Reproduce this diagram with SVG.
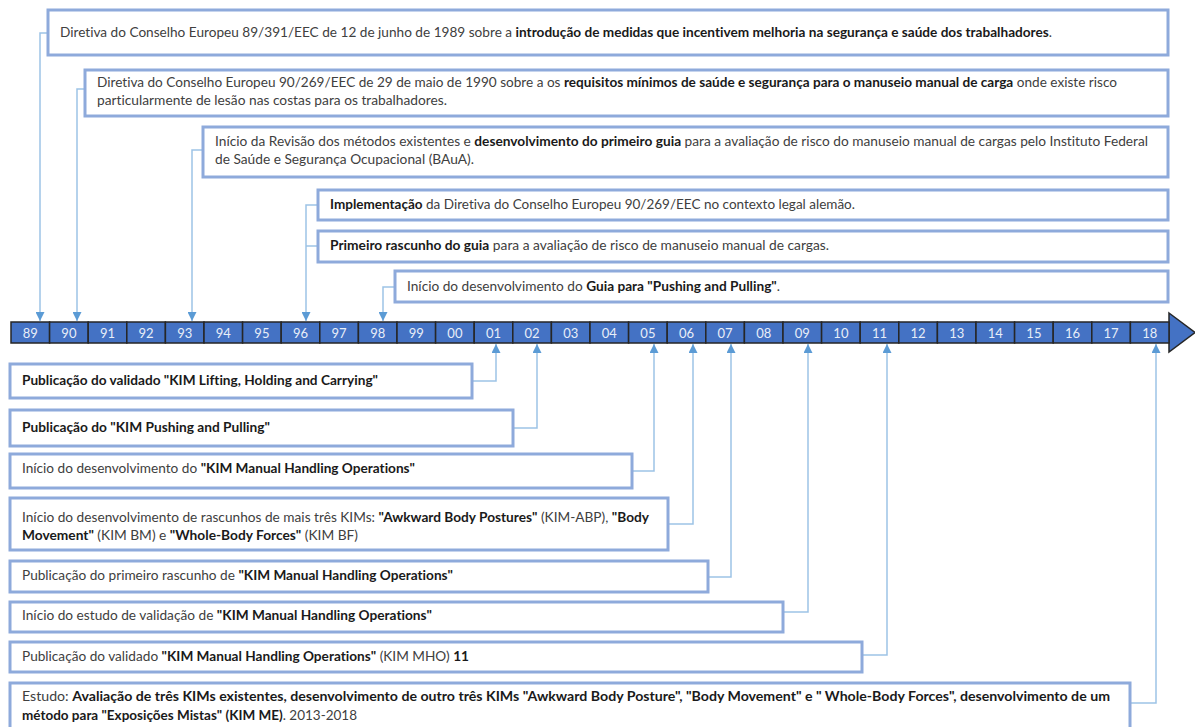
<svg xmlns="http://www.w3.org/2000/svg" width="1195" height="727" viewBox="0 0 1195 727">
<style>
.box{fill:#fff;stroke:#8eaadb;stroke-width:3}
.t{font-family:Lato,"Noto Sans",sans-serif;font-size:13px;fill:#404040;font-variant-ligatures:none;font-feature-settings:"liga" 0,"clig" 0}
.b{font-weight:bold;fill:#1a1a1a}
.con{fill:none;stroke:#9dc3e6;stroke-width:1.5}
.cell{fill:#4472c4;stroke:#262626;stroke-width:1.5}
.yr{font-family:Lato,"Noto Sans",sans-serif;font-size:13px;fill:#e8eef8;text-anchor:middle}
</style>
<defs>
<marker id="ah" viewBox="0 0 10 10" refX="10" refY="5" markerUnits="userSpaceOnUse" markerWidth="9" markerHeight="9" orient="auto">
<path d="M0,0 L10,5 L0,10 z" fill="#5b9bd5"/>
</marker>
</defs>
<rect width="1195" height="727" fill="#fff"/>

<g id="timeline">
<path d="M1169,313 L1195,332.5 L1169,352 Z" fill="#4472c4" stroke="#262626" stroke-width="1.5"/>
<rect class="cell" x="11" y="322" width="38.6" height="21"/>
<rect class="cell" x="49.6" y="322" width="38.6" height="21"/>
<rect class="cell" x="88.2" y="322" width="38.6" height="21"/>
<rect class="cell" x="126.8" y="322" width="38.6" height="21"/>
<rect class="cell" x="165.4" y="322" width="38.6" height="21"/>
<rect class="cell" x="204" y="322" width="38.6" height="21"/>
<rect class="cell" x="242.6" y="322" width="38.6" height="21"/>
<rect class="cell" x="281.2" y="322" width="38.6" height="21"/>
<rect class="cell" x="319.8" y="322" width="38.6" height="21"/>
<rect class="cell" x="358.4" y="322" width="38.6" height="21"/>
<rect class="cell" x="397" y="322" width="38.6" height="21"/>
<rect class="cell" x="435.6" y="322" width="38.6" height="21"/>
<rect class="cell" x="474.2" y="322" width="38.6" height="21"/>
<rect class="cell" x="512.8" y="322" width="38.6" height="21"/>
<rect class="cell" x="551.4" y="322" width="38.6" height="21"/>
<rect class="cell" x="590" y="322" width="38.6" height="21"/>
<rect class="cell" x="628.6" y="322" width="38.6" height="21"/>
<rect class="cell" x="667.2" y="322" width="38.6" height="21"/>
<rect class="cell" x="705.8" y="322" width="38.6" height="21"/>
<rect class="cell" x="744.4" y="322" width="38.6" height="21"/>
<rect class="cell" x="783" y="322" width="38.6" height="21"/>
<rect class="cell" x="821.6" y="322" width="38.6" height="21"/>
<rect class="cell" x="860.2" y="322" width="38.6" height="21"/>
<rect class="cell" x="898.8" y="322" width="38.6" height="21"/>
<rect class="cell" x="937.4" y="322" width="38.6" height="21"/>
<rect class="cell" x="976" y="322" width="38.6" height="21"/>
<rect class="cell" x="1014.6" y="322" width="38.6" height="21"/>
<rect class="cell" x="1053.2" y="322" width="38.6" height="21"/>
<rect class="cell" x="1091.8" y="322" width="38.6" height="21"/>
<rect class="cell" x="1130.4" y="322" width="38.6" height="21"/>
<text class="yr" x="30.3" y="337.5">89</text>
<text class="yr" x="68.9" y="337.5">90</text>
<text class="yr" x="107.5" y="337.5">91</text>
<text class="yr" x="146.1" y="337.5">92</text>
<text class="yr" x="184.7" y="337.5">93</text>
<text class="yr" x="223.3" y="337.5">94</text>
<text class="yr" x="261.9" y="337.5">95</text>
<text class="yr" x="300.5" y="337.5">96</text>
<text class="yr" x="339.1" y="337.5">97</text>
<text class="yr" x="377.7" y="337.5">98</text>
<text class="yr" x="416.3" y="337.5">99</text>
<text class="yr" x="454.9" y="337.5">00</text>
<text class="yr" x="493.5" y="337.5">01</text>
<text class="yr" x="532.1" y="337.5">02</text>
<text class="yr" x="570.7" y="337.5">03</text>
<text class="yr" x="609.3" y="337.5">04</text>
<text class="yr" x="647.9" y="337.5">05</text>
<text class="yr" x="686.5" y="337.5">06</text>
<text class="yr" x="725.1" y="337.5">07</text>
<text class="yr" x="763.7" y="337.5">08</text>
<text class="yr" x="802.3" y="337.5">09</text>
<text class="yr" x="840.9" y="337.5">10</text>
<text class="yr" x="879.5" y="337.5">11</text>
<text class="yr" x="918.1" y="337.5">12</text>
<text class="yr" x="956.7" y="337.5">13</text>
<text class="yr" x="995.3" y="337.5">14</text>
<text class="yr" x="1033.9" y="337.5">15</text>
<text class="yr" x="1072.5" y="337.5">16</text>
<text class="yr" x="1111.1" y="337.5">17</text>
<text class="yr" x="1149.7" y="337.5">18</text>
</g>

<g id="connectors">
<path class="con" d="M48,33 H40 V321" marker-end="url(#ah)"/>
<path class="con" d="M85,89 H77 V321" marker-end="url(#ah)"/>
<path class="con" d="M203,150 H192 V321" marker-end="url(#ah)"/>
<path class="con" d="M318,205 H306 V321" marker-end="url(#ah)"/>
<path class="con" d="M318,246 H306"/>
<path class="con" d="M395,287 H383 V321" marker-end="url(#ah)"/>
<path class="con" d="M472,381 H496 V344" marker-end="url(#ah)"/>
<path class="con" d="M513,428 H537 V344" marker-end="url(#ah)"/>
<path class="con" d="M632,471 H654 V344" marker-end="url(#ah)"/>
<path class="con" d="M668,524 H693 V344" marker-end="url(#ah)"/>
<path class="con" d="M708,577 H731 V344" marker-end="url(#ah)"/>
<path class="con" d="M783,612 H808 V344" marker-end="url(#ah)"/>
<path class="con" d="M862,655 H887 V344" marker-end="url(#ah)"/>
<path class="con" d="M1130,703 H1156 V344" marker-end="url(#ah)"/>
</g>

<g id="n1989">
<rect class="box" x="48" y="10" width="1120" height="45"/>
<text class="t" x="60" y="37" textLength="992" lengthAdjust="spacingAndGlyphs">Diretiva do Conselho Europeu 89/391/EEC de 12 de junho de 1989 sobre a <tspan class="b">introdução de medidas que incentivem melhoria na segurança e saúde dos trabalhadores</tspan>.</text>
</g>
<g id="n1990">
<rect class="box" x="85" y="70" width="1083" height="46"/>
<text class="t" x="97" y="87" textLength="1020" lengthAdjust="spacingAndGlyphs">Diretiva do Conselho Europeu 90/269/EEC de 29 de maio de 1990 sobre a os <tspan class="b">requisitos mínimos de saúde e segurança para o manuseio manual de carga</tspan> onde existe risco</text>
<text class="t" x="97" y="105" textLength="350" lengthAdjust="spacingAndGlyphs">particularmente de lesão nas costas para os trabalhadores.</text>
</g>
<g id="n1993">
<rect class="box" x="203" y="127" width="965" height="50"/>
<text class="t" x="215" y="146" textLength="933" lengthAdjust="spacingAndGlyphs">Início da Revisão dos métodos existentes e <tspan class="b">desenvolvimento do primeiro guia</tspan> para a avaliação de risco do manuseio manual de cargas pelo Instituto Federal</text>
<text class="t" x="215" y="164" textLength="259" lengthAdjust="spacingAndGlyphs">de Saúde e Segurança Ocupacional (BAuA).</text>
</g>
<g id="n1996a">
<rect class="box" x="318" y="190" width="850" height="30"/>
<text class="t" x="330" y="209" textLength="525" lengthAdjust="spacingAndGlyphs"><tspan class="b">Implementação</tspan> da Diretiva do Conselho Europeu 90/269/EEC no contexto legal alemão.</text>
</g>
<g id="n1996b">
<rect class="box" x="318" y="231" width="850" height="31"/>
<text class="t" x="330" y="250" textLength="499" lengthAdjust="spacingAndGlyphs"><tspan class="b">Primeiro rascunho do guia</tspan> para a avaliação de risco de manuseio manual de cargas.</text>
</g>
<g id="n1998">
<rect class="box" x="395" y="271" width="773" height="31"/>
<text class="t" x="407" y="291" textLength="373" lengthAdjust="spacingAndGlyphs">Início do desenvolvimento do <tspan class="b">Guia para "Pushing and Pulling"</tspan>.</text>
</g>

<g id="n2001">
<rect class="box" x="10" y="364" width="462" height="34"/>
<text class="t" x="22" y="385" textLength="356" lengthAdjust="spacingAndGlyphs"><tspan class="b">Publicação do validado "KIM Lifting, Holding and Carrying"</tspan></text>
</g>
<g id="n2002">
<rect class="box" x="10" y="410" width="503" height="36"/>
<text class="t" x="22" y="432" textLength="248" lengthAdjust="spacingAndGlyphs"><tspan class="b">Publicação do "KIM Pushing and Pulling"</tspan></text>
</g>
<g id="n2005">
<rect class="box" x="10" y="454" width="622" height="34"/>
<text class="t" x="22" y="473" textLength="393" lengthAdjust="spacingAndGlyphs">Início do desenvolvimento do <tspan class="b">"KIM Manual Handling Operations"</tspan></text>
</g>
<g id="n2006">
<rect class="box" x="10" y="498" width="658" height="52"/>
<text class="t" x="22" y="522" textLength="627" lengthAdjust="spacingAndGlyphs">Início do desenvolvimento de rascunhos de mais três KIMs: <tspan class="b">"Awkward Body Postures"</tspan> (KIM-ABP), <tspan class="b">"Body</tspan></text>
<text class="t" x="22" y="540" textLength="336" lengthAdjust="spacingAndGlyphs"><tspan class="b">Movement"</tspan> (KIM BM) e <tspan class="b">"Whole-Body Forces"</tspan> (KIM BF)</text>
</g>
<g id="n2007">
<rect class="box" x="10" y="561" width="698" height="31"/>
<text class="t" x="22" y="580" textLength="431" lengthAdjust="spacingAndGlyphs">Publicação do primeiro rascunho de <tspan class="b">"KIM Manual Handling Operations"</tspan></text>
</g>
<g id="n2009">
<rect class="box" x="10" y="602" width="773" height="30"/>
<text class="t" x="22" y="620" textLength="410" lengthAdjust="spacingAndGlyphs">Início do estudo de validação de <tspan class="b">"KIM Manual Handling Operations"</tspan></text>
</g>
<g id="n2011">
<rect class="box" x="10" y="642" width="852" height="30"/>
<text class="t" x="22" y="661" textLength="447" lengthAdjust="spacingAndGlyphs">Publicação do validado <tspan class="b">"KIM Manual Handling Operations"</tspan> (KIM MHO) <tspan class="b">11</tspan></text>
</g>
<g id="n2018">
<rect class="box" x="10" y="683" width="1120" height="52"/>
<text class="t" x="22" y="701" textLength="1088" lengthAdjust="spacingAndGlyphs">Estudo: <tspan class="b">Avaliação de três KIMs existentes, desenvolvimento de outro três KIMs "Awkward Body Posture", "Body Movement" e " Whole-Body Forces", desenvolvimento de um</tspan></text>
<text class="t" x="22" y="720" textLength="335" lengthAdjust="spacingAndGlyphs"><tspan class="b">método para "Exposições Mistas" (KIM ME)</tspan>. 2013-2018</text>
</g>
</svg>
